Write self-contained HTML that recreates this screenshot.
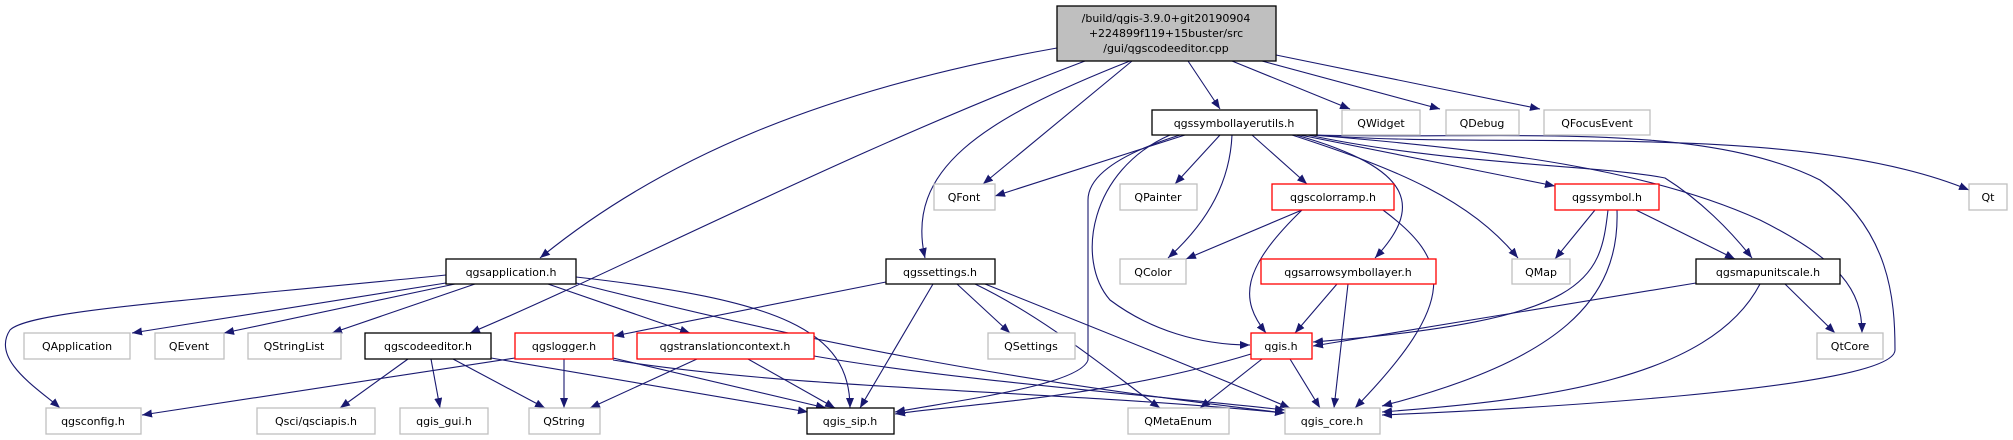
<!DOCTYPE html>
<html><head><meta charset="utf-8"><style>
html,body{margin:0;padding:0;background:#fff;width:2013px;height:440px;overflow:hidden}
text{font-family:"DejaVu Sans","Liberation Sans",sans-serif;font-size:11px;fill:#000}
</style></head><body>
<svg width="2013" height="440" viewBox="0 0 2013 440" xmlns="http://www.w3.org/2000/svg">
<defs><marker id="a" viewBox="0 0 10 8" refX="10" refY="4" markerWidth="10" markerHeight="8" markerUnits="userSpaceOnUse" orient="auto"><path d="M0,0L10,4L0,8z" fill="#191970"/></marker></defs>
<g fill="none" stroke="#191970" stroke-width="1.1" marker-end="url(#a)">
<path d="M1057,48 C820,90 660,160 540,258"/>
<path d="M1085,61 C850,150 620,270 470,333"/>
<path d="M1130,61 C980,120 905,170 925,258"/>
<path d="M1132,61 L983,184"/>
<path d="M1188,61 L1220,109"/>
<path d="M1232,61 L1350,109"/>
<path d="M1262,61 L1440,109"/>
<path d="M1276,55 L1540,109"/>
<path d="M1185,135 L995,196"/>
<path d="M1180,135 C1100,160 1088,185 1088,200 L1088,360 C1080,385 960,400 895,412"/>
<path d="M1220,135 L1175,184"/>
<path d="M1232,135 C1230,180 1210,220 1168,258"/>
<path d="M1252,135 L1307,184"/>
<path d="M1170,135 C1090,170 1075,260 1110,300 C1150,330 1200,345 1250,345"/>
<path d="M1296,135 C1420,170 1420,210 1375,258"/>
<path d="M1292,135 C1400,170 1470,200 1518,258"/>
<path d="M1300,135 L1555,186"/>
<path d="M1308,135 C1450,165 1600,165 1665,178 C1700,200 1730,230 1752,258"/>
<path d="M1312,135 C1500,150 1650,170 1760,220 C1840,260 1862,290 1862,333"/>
<path d="M1315,135 C1500,150 1800,120 1969,190"/>
<path d="M1317,135 C1500,140 1700,120 1820,180 C1890,230 1895,300 1895,350 C1895,390 1500,410 1382,415"/>
<path d="M1302,210 L1186,259"/>
<path d="M1302,210 C1240,270 1240,300 1266,333"/>
<path d="M1383,210 C1450,260 1460,300 1355,408"/>
<path d="M1595,210 L1555,259"/>
<path d="M1608,210 C1600,280 1590,320 1313,342"/>
<path d="M1617,210 C1620,300 1560,360 1382,406"/>
<path d="M1636,210 L1735,259"/>
<path d="M1337,284 L1295,333"/>
<path d="M1348,284 L1334,408"/>
<path d="M1696,283 L1313,346"/>
<path d="M1785,284 L1835,333"/>
<path d="M1760,284 C1710,380 1540,400 1382,412"/>
<path d="M1251,354 C1100,400 950,405 895,414"/>
<path d="M1262,359 L1200,408"/>
<path d="M1290,359 L1320,408"/>
<path d="M446,275 C200,300 30,310 10,330 C-10,360 40,390 60,408"/>
<path d="M446,283 L132,333"/>
<path d="M455,284 L224,333"/>
<path d="M475,284 L332,333"/>
<path d="M548,284 L690,333"/>
<path d="M576,277 C780,300 850,330 850,408"/>
<path d="M576,283 C800,340 1000,380 1285,413"/>
<path d="M886,282 L614,336"/>
<path d="M957,284 L1010,333"/>
<path d="M933,284 L860,408"/>
<path d="M975,284 C1050,320 1120,380 1160,408"/>
<path d="M985,284 C1100,330 1200,370 1290,408"/>
<path d="M408,359 L340,408"/>
<path d="M431,359 L440,408"/>
<path d="M453,359 L545,408"/>
<path d="M491,358 L808,412"/>
<path d="M515,358 L142,415"/>
<path d="M564,359 L564,408"/>
<path d="M613,358 L826,408"/>
<path d="M613,360 C800,390 1050,390 1285,413"/>
<path d="M697,359 L590,408"/>
<path d="M748,359 L835,408"/>
<path d="M814,356 C950,380 1150,395 1285,410"/>
</g>
<rect x="1057" y="6" width="219" height="55" fill="#bfbfbf" stroke="#000" stroke-width="1.3"/>
<text x="1166" y="22" text-anchor="middle">/build/qgis-3.9.0+git20190904</text>
<text x="1166" y="37" text-anchor="middle">+224899f119+15buster/src</text>
<text x="1166" y="52" text-anchor="middle">/gui/qgscodeeditor.cpp</text>
<g fill="#fff" stroke-width="1.3">
<rect x="1152" y="110" width="165" height="25" stroke="#000"/>
<rect x="1342" y="110" width="78" height="25" stroke="#bfbfbf"/>
<rect x="1446" y="110" width="73" height="25" stroke="#bfbfbf"/>
<rect x="1544" y="110" width="106" height="25" stroke="#bfbfbf"/>
<rect x="934" y="184" width="61" height="26" stroke="#bfbfbf"/>
<rect x="1120" y="184" width="77" height="26" stroke="#bfbfbf"/>
<rect x="1272" y="184" width="122" height="26" stroke="#f00"/>
<rect x="1555" y="184" width="104" height="26" stroke="#f00"/>
<rect x="1969" y="184" width="38" height="26" stroke="#bfbfbf"/>
<rect x="446" y="259" width="130" height="25" stroke="#000"/>
<rect x="886" y="259" width="109" height="25" stroke="#000"/>
<rect x="1120" y="259" width="66" height="25" stroke="#bfbfbf"/>
<rect x="1261" y="259" width="175" height="25" stroke="#f00"/>
<rect x="1512" y="259" width="58" height="25" stroke="#bfbfbf"/>
<rect x="1696" y="259" width="144" height="25" stroke="#000"/>
<rect x="24" y="333" width="106" height="26" stroke="#bfbfbf"/>
<rect x="155" y="333" width="69" height="26" stroke="#bfbfbf"/>
<rect x="248" y="333" width="93" height="26" stroke="#bfbfbf"/>
<rect x="365" y="333" width="126" height="26" stroke="#000"/>
<rect x="515" y="333" width="98" height="26" stroke="#f00"/>
<rect x="637" y="333" width="177" height="26" stroke="#f00"/>
<rect x="988" y="333" width="87" height="26" stroke="#bfbfbf"/>
<rect x="1251" y="333" width="61" height="26" stroke="#f00"/>
<rect x="1817" y="333" width="66" height="26" stroke="#bfbfbf"/>
<rect x="46" y="408" width="95" height="26" stroke="#bfbfbf"/>
<rect x="257" y="408" width="118" height="26" stroke="#bfbfbf"/>
<rect x="400" y="408" width="88" height="26" stroke="#bfbfbf"/>
<rect x="529" y="408" width="71" height="26" stroke="#bfbfbf"/>
<rect x="807" y="408" width="87" height="26" stroke="#000"/>
<rect x="1128" y="408" width="101" height="26" stroke="#bfbfbf"/>
<rect x="1285" y="408" width="95" height="26" stroke="#bfbfbf"/>
</g>
<g text-anchor="middle">
<text x="1234" y="127">qgssymbollayerutils.h</text>
<text x="1381" y="127">QWidget</text>
<text x="1482" y="127">QDebug</text>
<text x="1597" y="127">QFocusEvent</text>
<text x="964" y="201">QFont</text>
<text x="1158" y="201">QPainter</text>
<text x="1333" y="201">qgscolorramp.h</text>
<text x="1607" y="201">qgssymbol.h</text>
<text x="1988" y="201">Qt</text>
<text x="511" y="276">qgsapplication.h</text>
<text x="940" y="276">qgssettings.h</text>
<text x="1153" y="276">QColor</text>
<text x="1348" y="276">qgsarrowsymbollayer.h</text>
<text x="1541" y="276">QMap</text>
<text x="1768" y="276">qgsmapunitscale.h</text>
<text x="77" y="350">QApplication</text>
<text x="189" y="350">QEvent</text>
<text x="294" y="350">QStringList</text>
<text x="428" y="350">qgscodeeditor.h</text>
<text x="564" y="350">qgslogger.h</text>
<text x="725" y="350">qgstranslationcontext.h</text>
<text x="1031" y="350">QSettings</text>
<text x="1281" y="350">qgis.h</text>
<text x="1850" y="350">QtCore</text>
<text x="93" y="425">qgsconfig.h</text>
<text x="316" y="425">Qsci/qsciapis.h</text>
<text x="444" y="425">qgis_gui.h</text>
<text x="564" y="425">QString</text>
<text x="850" y="425">qgis_sip.h</text>
<text x="1178" y="425">QMetaEnum</text>
<text x="1332" y="425">qgis_core.h</text>
</g>
</svg>
</body></html>
